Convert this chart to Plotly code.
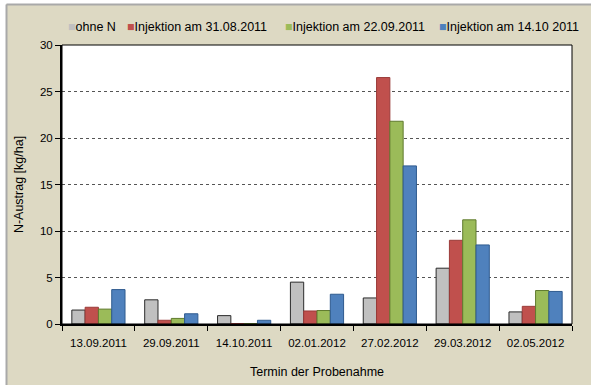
import plotly.graph_objects as go

# Sampling dates (x categories)
termine = ["13.09.2011", "29.09.2011", "14.10.2011", "02.01.2012",
           "27.02.2012", "29.03.2012", "02.05.2012"]

# N leaching per treatment [kg/ha]
ohne_n = [1.5, 2.6, 0.9, 4.5, 2.8, 6.0, 1.3]
inj_3108 = [1.8, 0.4, 0.05, 1.4, 26.5, 9.0, 1.9]
inj_2209 = [1.6, 0.6, 0.05, 1.45, 21.8, 11.2, 3.6]
inj_1410 = [3.7, 1.1, 0.4, 3.2, 17.0, 8.5, 3.5]

serien = [
    ("ohne N", ohne_n, "#C0C0C0", "#2a2a2a"),
    ("Injektion am 31.08.2011", inj_3108, "#C0504D", "#9a3b39"),
    ("Injektion am 22.09.2011", inj_2209, "#9BBB59", "#5f7a2e"),
    ("Injektion am 14.10 2011", inj_1410, "#4F81BD", "#2f5b8f"),
]

W, H = 591, 385
L, R, T, B = 62, 19, 45, 61
PW, PH = W - L - R, H - T - B
FONT = "Liberation Sans, Arial, sans-serif"


def px(x):
    return (x - L) / PW


def py(y):
    return (H - B - y) / PH


fig = go.Figure()
for name, vals, fill, edge in serien:
    fig.add_trace(go.Bar(
        x=termine, y=vals, name=name,
        marker=dict(color=fill, line=dict(color=edge, width=1)),
        showlegend=False,
    ))

# Legend row drawn as text keys above the plot
legend_x = [66, 125, 283, 437]
annotations = []
for (name, vals, fill, edge), lx in zip(serien, legend_x):
    annotations.append(dict(
        x=px(lx), y=py(27), xref="paper", yref="paper",
        xanchor="left", yanchor="middle", showarrow=False,
        text=f"<span style='color:{fill}'>■</span>{name}",
        font=dict(family=FONT, size=12.5, color="#000"),
    ))

shapes = [
    # plot frame (top / right)
    dict(type="rect", xref="paper", yref="paper", x0=0, x1=1, y0=0, y1=1,
         line=dict(color="#000", width=1), layer="above"),
    # white page edge and grey chart border
    dict(type="rect", xref="paper", yref="paper", x0=px(-5), x1=px(6),
         y0=py(H + 5), y1=py(-5), fillcolor="#fff", line_width=0, layer="below"),
    dict(type="rect", xref="paper", yref="paper", x0=px(-5), x1=px(W + 5),
         y0=py(4), y1=py(-5), fillcolor="#fff", line_width=0, layer="below"),
    dict(type="line", xref="paper", yref="paper", x0=px(6.5), x1=px(6.5),
         y0=py(4.5), y1=py(H + 5), line=dict(color="#a9a9a9", width=2), layer="below"),
    dict(type="line", xref="paper", yref="paper", x0=px(6.5), x1=px(W + 5),
         y0=py(4.5), y1=py(4.5), line=dict(color="#a9a9a9", width=2), layer="below"),
]

fig.update_layout(
    width=W, height=H,
    margin=dict(l=L, r=R, t=T, b=B, pad=0),
    paper_bgcolor="#DDD9C3", plot_bgcolor="#FFFFFF",
    barmode="group", bargap=0.27, bargroupgap=0,
    font=dict(family=FONT, size=11.5, color="#000"),
    annotations=annotations, shapes=shapes,
    xaxis=dict(
        title=dict(text="Termin der Probenahme", font=dict(size=12.5), standoff=19),
        showline=True, linecolor="#000", linewidth=2,
        ticks="outside", ticklen=5, tickwidth=1, tickcolor="#000",
        tickson="boundaries", showgrid=False, ticklabelstandoff=7,
        automargin=False,
    ),
    yaxis=dict(
        title=dict(text="N-Austrag [kg/ha]", font=dict(size=12.5), standoff=14),
        range=[0, 30], dtick=5, tick0=0,
        showline=True, linecolor="#000", linewidth=2,
        ticks="outside", ticklen=5, tickwidth=1, tickcolor="#000",
        showgrid=True, gridcolor="#555", griddash="dot", gridwidth=1,
        zeroline=False, automargin=False,
    ),
)

fig.write_html("out.html")
